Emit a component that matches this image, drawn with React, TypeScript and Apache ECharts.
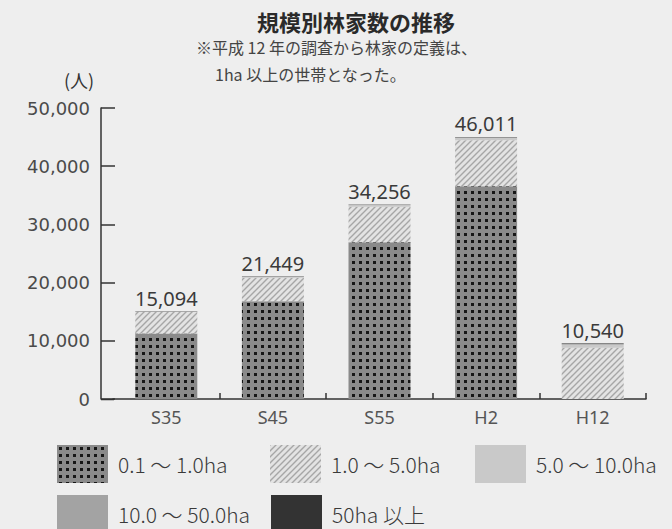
import React, { useEffect, useRef } from 'react';
import * as echarts from 'echarts';

const categories = ['S35', 'S45', 'S55', 'H2', 'H12'];
const seriesNames = ['0.1 ～ 1.0ha', '1.0 ～ 5.0ha', '5.0 ～ 10.0ha', '10.0 ～ 50.0ha', '50ha 以上'];
const ha01to1 = [11250, 16800, 26940, 36560, 0];
const ha1to5 = [3730, 4020, 6080, 7900, 8800];
const ha5to10 = [60, 150, 250, 380, 520];
const ha10to50 = [40, 80, 100, 120, 160];
const ha50plus = [20, 40, 50, 60, 80];
const totals = [15094, 21449, 34256, 46011, 10540];
const yMax = 50000;
const yStep = 10000;

const titleText = '規模別林家数の推移';
const noteLine1 = '※平成 12 年の調査から林家の定義は、';
const noteLine2 = '1ha 以上の世帯となった。';
const unitText = '(人)';

function dotPattern() {
  const c = document.createElement('canvas');
  c.width = 7;
  c.height = 7;
  const ctx = c.getContext('2d')!;
  ctx.fillStyle = '#8a8a8a';
  ctx.fillRect(0, 0, 7, 7);
  ctx.fillStyle = '#161616';
  ctx.fillRect(2, 2, 3, 3);
  return c;
}

function hatchPattern() {
  const s = 6;
  const c = document.createElement('canvas');
  c.width = s;
  c.height = s;
  const ctx = c.getContext('2d')!;
  ctx.fillStyle = '#e3e3e3';
  ctx.fillRect(0, 0, s, s);
  ctx.strokeStyle = '#a6a6a6';
  ctx.lineWidth = 1.4;
  ctx.beginPath();
  ctx.moveTo(0, s);
  ctx.lineTo(s, 0);
  ctx.moveTo(-1, 1);
  ctx.lineTo(1, -1);
  ctx.moveTo(s - 1, s + 1);
  ctx.lineTo(s + 1, s - 1);
  ctx.stroke();
  return c;
}

export default function App() {
  const ref = useRef<HTMLDivElement>(null);
  useEffect(() => {
    document.body.style.margin = '0';
    const chart = echarts.init(ref.current!, undefined, { renderer: 'svg' });
    const dot = dotPattern();
    const hatch = hatchPattern();
    const colors: any[] = [
      { image: dot, repeat: 'repeat', imageWidth: 7, imageHeight: 7 },
      { image: hatch, repeat: 'repeat', imageWidth: 6, imageHeight: 6 },
      '#c9c9c9',
      '#a3a3a3',
      '#333333',
    ];
    const dataSets = [ha01to1, ha1to5, ha5to10, ha10to50, ha50plus];
    const legendPos = [
      [57, 445],
      [270, 445],
      [475, 445],
      [57, 495],
      [271, 495],
    ];
    const font = '"Noto Sans", "Noto Sans CJK JP", sans-serif';
    chart.setOption({
      animation: false,
      backgroundColor: '#eeeeee',
      textStyle: { fontFamily: font },
      grid: { left: 113, right: 26, top: 108, bottom: 130, containLabel: false, outerBoundsMode: 'none' },
      legend: seriesNames.map((n, i) => ({
        data: [n],
        left: legendPos[i][0],
        top: legendPos[i][1],
        padding: 0,
        itemWidth: 51,
        itemHeight: 38,
        itemGap: 0,
        icon: 'rect',
        selectedMode: false,
        textStyle: { fontSize: 21, color: '#3a3a3a', fontFamily: '"Noto Sans CJK JP", sans-serif', fontWeight: 300, padding: [0, 0, 0, 5] },
      })),
      xAxis: {
        type: 'category',
        data: categories,
        axisLine: { lineStyle: { color: '#333', width: 1.5 } },
        axisTick: { show: true, inside: true, length: 6, lineStyle: { color: '#333', width: 1.5 }, interval: (i: number) => i !== 0 },
        axisLabel: { color: '#555', fontSize: 18, margin: 9, fontFamily: font },
      },
      yAxis: {
        type: 'value',
        min: 0,
        max: yMax,
        interval: yStep,
        offset: 12,
        axisLine: { show: true, lineStyle: { color: '#333', width: 1.5 } },
        axisTick: { show: true, inside: true, length: 14, lineStyle: { color: '#333', width: 1.5 } },
        splitLine: { show: false },
        axisLabel: {
          color: '#4a4a4a',
          fontSize: 18,
          margin: 11,
          fontFamily: '"DejaVu Sans", sans-serif',
          formatter: (v: number) => v.toLocaleString('en-US'),
        },
      },
      graphic: [
        { type: 'line', shape: { x1: 101, y1: 399.5, x2: 114, y2: 399.5 }, style: { stroke: '#333', lineWidth: 1.5 } },
        {
          type: 'text', x: 356, y: 21,
          style: { text: titleText, textAlign: 'center', textVerticalAlign: 'middle', font: 'bold 22px "Noto Sans CJK JP", sans-serif', fill: '#2a2a2a' },
        },
        {
          type: 'text', x: 196, y: 47,
          style: { text: noteLine1, textAlign: 'left', textVerticalAlign: 'middle', font: '16px "Noto Sans CJK JP", sans-serif', fill: '#444' },
        },
        {
          type: 'text', x: 215, y: 74,
          style: { text: noteLine2, textAlign: 'left', textVerticalAlign: 'middle', font: '16px "Noto Sans CJK JP", sans-serif', fill: '#444' },
        },
        {
          type: 'text', x: 64, y: 80,
          style: { text: unitText, textAlign: 'left', textVerticalAlign: 'middle', font: '18px "Noto Sans CJK JP", sans-serif', fill: '#333' },
        },
      ],
      series: seriesNames.map((n, i) => ({
        name: n,
        type: 'bar',
        stack: 'total',
        barWidth: 62,
        data: dataSets[i],
        itemStyle: { color: colors[i] },
        label: i === seriesNames.length - 1
          ? {
              show: true,
              position: 'top',
              distance: 3,
              fontSize: 20,
              color: '#3a3a3a',
              fontFamily: font,
              formatter: (p: any) => totals[p.dataIndex].toLocaleString('en-US'),
            }
          : { show: false },
      })),
    });
    return () => chart.dispose();
  }, []);
  return <div ref={ref} style={{ width: 672, height: 529 }} />;
}
